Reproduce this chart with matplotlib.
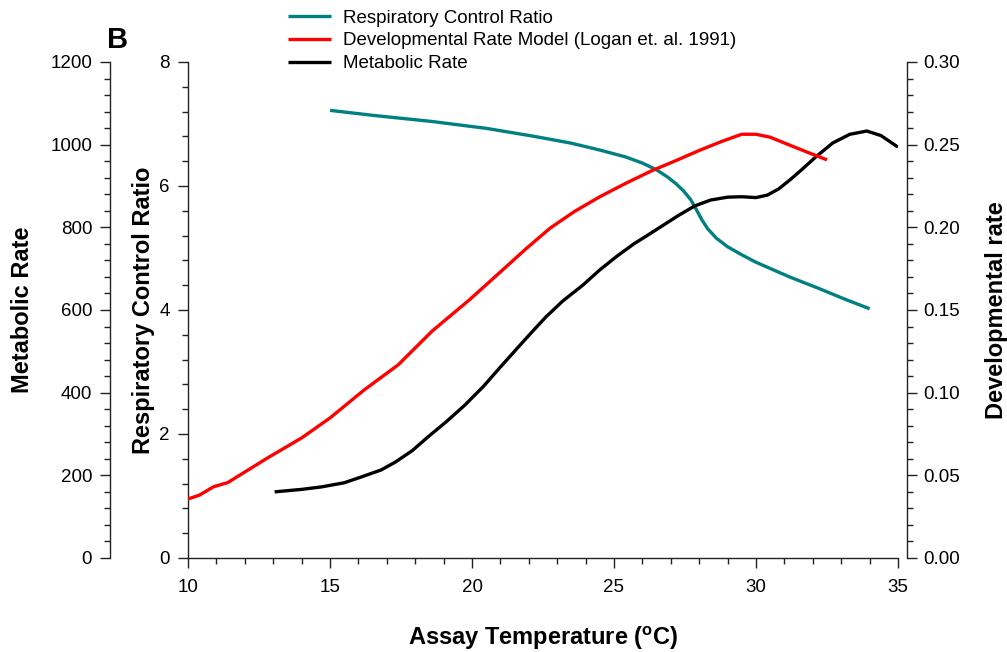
import numpy as np
import matplotlib.pyplot as plt
from matplotlib.ticker import MultipleLocator, FormatStrFormatter

plt.rcParams['font.family'] = ['Liberation Sans', 'DejaVu Sans']

# Respiratory Control Ratio (left inner axis)
rcr_temp = [15.0, 16.5, 18.6, 20.5, 22.2, 23.5, 24.5, 25.4, 26.0, 26.5, 26.9, 27.2,
            27.45, 27.7, 27.9, 28.1, 28.3, 28.6, 29.0, 29.5, 30.0, 30.4, 31.2, 32.2,
            33.1, 34.0]
rcr_val = [7.22, 7.14, 7.04, 6.93, 6.80, 6.69, 6.58, 6.47, 6.37, 6.26, 6.14, 6.03,
           5.92, 5.78, 5.62, 5.45, 5.31, 5.16, 5.02, 4.89, 4.77, 4.69, 4.53, 4.35,
           4.18, 4.02]

# Developmental rate model (right axis)
dev_temp = [10.0, 10.4, 10.9, 11.4, 12.0, 12.8, 14.0, 15.0, 16.2, 17.4, 18.6, 19.9,
            21.0, 21.9, 22.75, 23.6, 24.5, 25.4, 26.3, 27.2, 28.0, 28.8, 29.5, 30.0,
            30.5, 31.0, 31.8, 32.5]
dev_val = [0.0357, 0.038, 0.0431, 0.0456, 0.052, 0.0605, 0.0726, 0.0847, 0.1016,
           0.1168, 0.1373, 0.156, 0.173, 0.187, 0.1995, 0.2095, 0.2185, 0.2265,
           0.234, 0.2405, 0.2465, 0.252, 0.2563, 0.2563, 0.2545, 0.2510, 0.2455,
           0.2408]

# Metabolic rate (left outer axis)
met_temp = [13.05, 14.0, 14.7, 15.5, 16.1, 16.8, 17.3, 17.9, 18.45, 19.1, 19.75,
            20.4, 21.0, 21.6, 22.1, 22.6, 23.2, 23.9, 24.5, 25.1, 25.7, 26.3, 26.8,
            27.3, 27.85, 28.4, 29.0, 29.5, 30.0, 30.4, 30.8, 31.2, 31.6, 32.1, 32.7,
            33.3, 33.9, 34.4, 35.0]
met_val = [160, 166, 172, 182, 196, 213, 232, 260, 293, 330, 370, 415, 462, 508,
           546, 583, 622, 660, 697, 730, 760, 786, 808, 830, 852, 866, 873, 874,
           872, 878, 893, 915, 939, 970, 1004, 1025, 1033, 1022, 994]

fig = plt.figure(figsize=(10.07, 6.52), dpi=100)
ax = fig.add_axes([188 / 1007, 94 / 652, 710 / 1007, 496 / 652])
ax_m = ax.twinx()
ax_d = ax.twinx()

for a in (ax, ax_m, ax_d):
    a.tick_params(which='major', length=7, width=1, color='#222222', direction='out',
                  labelsize=13.5, pad=6)
    a.tick_params(which='minor', length=4, width=1, color='#222222', direction='out')
    for s in a.spines.values():
        s.set_visible(False)
        s.set_linewidth(1)
        s.set_color('#222222')

# main axis: temperature and RCR
ax.spines['bottom'].set_visible(True)
ax.spines['left'].set_visible(True)
ax.set_xlim(10, 35)
ax.set_ylim(0, 8)
ax.xaxis.set_major_locator(MultipleLocator(5))
ax.xaxis.set_minor_locator(MultipleLocator(1))
ax.yaxis.set_major_locator(MultipleLocator(2))
ax.yaxis.set_minor_locator(MultipleLocator(0.4))
ax.tick_params(axis='x', pad=8)

# metabolic rate axis, offset to the left
ax_m.spines['left'].set_visible(True)
ax_m.spines['left'].set_position(('outward', 56))
ax_m.yaxis.set_ticks_position('left')
ax_m.yaxis.set_label_position('left')
ax_m.set_ylim(0, 1200)
ax_m.yaxis.set_major_locator(MultipleLocator(200))
ax_m.yaxis.set_minor_locator(MultipleLocator(40))

# developmental rate axis on the right
ax_d.spines['right'].set_visible(True)
ax_d.spines['right'].set_position(('outward', 6.5))
ax_d.set_ylim(0, 0.30)
ax_d.yaxis.set_major_locator(MultipleLocator(0.05))
ax_d.yaxis.set_minor_locator(MultipleLocator(0.01))
ax_d.yaxis.set_major_formatter(FormatStrFormatter('%.2f'))
ax_d.tick_params(axis='y', pad=5)

line_kw = dict(lw=2.4, solid_joinstyle='round', solid_capstyle='butt')
l1, = ax.plot(rcr_temp, rcr_val, color='#008080', label='Respiratory Control Ratio', **line_kw)
l2, = ax_d.plot(dev_temp, dev_val, color='#ff0000',
                label='Developmental Rate Model (Logan et. al. 1991)', **line_kw)
l3, = ax_m.plot(met_temp, met_val, color='black', label='Metabolic Rate', **line_kw)

lab_kw = dict(fontsize=17, fontweight='bold')
ax.set_xlabel('Assay Temperature ($\\mathregular{^oC}$)', labelpad=21, **lab_kw)
ax.set_ylabel('Respiratory Control Ratio', labelpad=3, **lab_kw)
ax_m.set_ylabel('Metabolic Rate', labelpad=12, **lab_kw)
ax_d.set_ylabel('Developmental rate', labelpad=18, **lab_kw)

fig.text(107 / 1007, 1 - 40 / 652, 'B', fontsize=21, fontweight='bold', va='center')

fig.legend(handles=[l1, l2, l3], loc='upper left', bbox_to_anchor=(280 / 1007, 1 - 2 / 652),
           frameon=False, fontsize=13.5, handlelength=2.3, handletextpad=0.65,
           labelspacing=0.3, borderaxespad=0)

fig.savefig('out.png', dpi=100)
